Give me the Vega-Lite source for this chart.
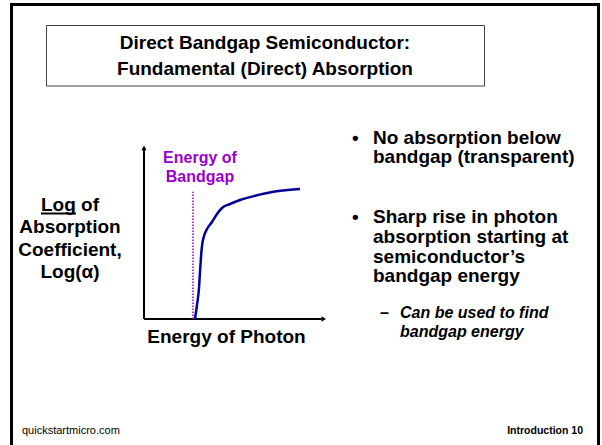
{
  "$schema": "https://vega.github.io/schema/vega-lite/v6.json",
  "width": 602,
  "height": 445,
  "autosize": {"type": "fit", "contains": "padding"},
  "padding": 0,
  "background": "white",
  "config": {"view": {"stroke": null}, "text": {"font": "Liberation Sans"}},
  "encoding": {
    "x": {"field": "energy", "type": "quantitative", "scale": {"domain": [-7.8689, 25.0273], "nice": false, "zero": false}, "axis": null},
    "y": {"field": "logAlpha", "type": "quantitative", "scale": {"domain": [-7.2, 18.2286], "nice": false, "zero": false}, "axis": null}
  },
  "layer": [
    {
      "data": {"values": [{"energy": -7.24, "energy2": 24.836, "logAlpha": 17.971, "logAlpha2": -8.5}]},
      "mark": {"type": "rect", "filled": false, "stroke": "#000000", "strokeWidth": 3, "clip": true},
      "encoding": {"x2": {"field": "energy2"}, "y2": {"field": "logAlpha2"}}
    },
    {
      "data": {"values": [{"energy": -5.328, "energy2": 18.607, "logAlpha": 16.771, "logAlpha2": 13.314}]},
      "mark": {"type": "rect", "fill": "white", "stroke": "#404040", "strokeWidth": 1},
      "encoding": {"x2": {"field": "energy2"}, "y2": {"field": "logAlpha2"}}
    },
    {
      "data": {"values": [
        {"energy": 6.612, "logAlpha": 15.429, "label": "Direct Bandgap Semiconductor:"},
        {"energy": 6.612, "logAlpha": 13.943, "label": "Fundamental (Direct) Absorption"}
      ]},
      "mark": {"type": "text", "fontSize": 19, "fontWeight": "bold", "align": "center", "baseline": "alphabetic", "color": "#000000"},
      "encoding": {"text": {"field": "label"}}
    },
    {
      "data": {"values": [
        {"energy": -4.044, "logAlpha": 6.189, "label": "Log of"},
        {"energy": -4.044, "logAlpha": 4.897, "label": "Absorption"},
        {"energy": -4.044, "logAlpha": 3.6, "label": "Coefficient,"},
        {"energy": -4.044, "logAlpha": 2.326, "label": "Log(α)"}
      ]},
      "mark": {"type": "text", "fontSize": 19, "fontWeight": "bold", "align": "center", "baseline": "alphabetic", "color": "#000000"},
      "encoding": {"text": {"field": "label"}}
    },
    {
      "data": {"values": [{"energy": -5.628, "energy2": -3.716, "logAlpha": 6.029}]},
      "mark": {"type": "rule", "stroke": "#000000", "strokeWidth": 1.8},
      "encoding": {"x2": {"field": "energy2"}}
    },
    {
      "data": {"values": [
        {"energy": 0, "energy2": 9.7, "logAlpha": 0, "logAlpha2": 0},
        {"energy": 0, "energy2": 0, "logAlpha": 0, "logAlpha2": 9.7}
      ]},
      "mark": {"type": "rule", "stroke": "#000000", "strokeWidth": 2},
      "encoding": {"x2": {"field": "energy2"}, "y2": {"field": "logAlpha2"}}
    },
    {
      "data": {"values": [{"energy": 0, "logAlpha": 9.78}]},
      "mark": {"type": "point", "shape": "triangle-up", "filled": true, "color": "#000000", "size": 28, "opacity": 1}
    },
    {
      "data": {"values": [{"energy": 9.82, "logAlpha": 0}]},
      "mark": {"type": "point", "shape": "triangle-right", "filled": true, "color": "#000000", "size": 28, "opacity": 1}
    },
    {
      "data": {"values": [{"energy": 2.678, "logAlpha": 0, "logAlpha2": 7.274}]},
      "mark": {"type": "rule", "stroke": "#9900CC", "strokeWidth": 1.5, "strokeDash": [1.5, 1.5]},
      "encoding": {"y2": {"field": "logAlpha2"}}
    },
    {
      "data": {"values": [
        {"energy": 3.06, "logAlpha": 8.914, "label": "Energy of"},
        {"energy": 3.06, "logAlpha": 7.846, "label": "Bandgap"}
      ]},
      "mark": {"type": "text", "fontSize": 16, "fontWeight": "bold", "align": "center", "baseline": "alphabetic", "color": "#9900CC"},
      "encoding": {"text": {"field": "label"}}
    },
    {
      "data": {"values": [
        {"energy": 2.787, "logAlpha": 0},
        {"energy": 2.896, "logAlpha": 0.8},
        {"energy": 3.005, "logAlpha": 1.771},
        {"energy": 3.06, "logAlpha": 2.686},
        {"energy": 3.115, "logAlpha": 3.543},
        {"energy": 3.169, "logAlpha": 4.171},
        {"energy": 3.279, "logAlpha": 4.743},
        {"energy": 3.443, "logAlpha": 5.143},
        {"energy": 3.716, "logAlpha": 5.543},
        {"energy": 3.989, "logAlpha": 6.0},
        {"energy": 4.262, "logAlpha": 6.343},
        {"energy": 4.699, "logAlpha": 6.571},
        {"energy": 5.246, "logAlpha": 6.8},
        {"energy": 6.12, "logAlpha": 7.057},
        {"energy": 6.995, "logAlpha": 7.257},
        {"energy": 7.869, "logAlpha": 7.371},
        {"energy": 8.525, "logAlpha": 7.429}
      ]},
      "mark": {"type": "line", "color": "#000099", "strokeWidth": 2.5, "interpolate": "monotone"},
      "encoding": {}
    },
    {
      "data": {"values": [{"energy": 4.508, "logAlpha": -1.343, "label": "Energy of Photon"}]},
      "mark": {"type": "text", "fontSize": 19, "fontWeight": "bold", "align": "center", "baseline": "alphabetic", "color": "#000000"},
      "encoding": {"text": {"field": "label"}}
    },
    {
      "data": {"values": [
        {"energy": 11.366, "logAlpha": 10.0, "label": "•"},
        {"energy": 11.366, "logAlpha": 5.486, "label": "•"}
      ]},
      "mark": {"type": "text", "fontSize": 19, "fontWeight": "bold", "align": "left", "baseline": "alphabetic", "color": "#000000"},
      "encoding": {"text": {"field": "label"}}
    },
    {
      "data": {"values": [
        {"energy": 12.514, "logAlpha": 10.0, "label": "No absorption below"},
        {"energy": 12.514, "logAlpha": 8.886, "label": "bandgap (transparent)"},
        {"energy": 12.514, "logAlpha": 5.486, "label": "Sharp rise in photon"},
        {"energy": 12.514, "logAlpha": 4.343, "label": "absorption starting at"},
        {"energy": 12.514, "logAlpha": 3.2, "label": "semiconductor’s"},
        {"energy": 12.514, "logAlpha": 2.114, "label": "bandgap energy"}
      ]},
      "mark": {"type": "text", "fontSize": 19, "fontWeight": "bold", "align": "left", "baseline": "alphabetic", "color": "#000000"},
      "encoding": {"text": {"field": "label"}}
    },
    {
      "data": {"values": [{"energy": 12.896, "logAlpha": 0.057, "label": "–"}]},
      "mark": {"type": "text", "fontSize": 16, "fontWeight": "bold", "align": "left", "baseline": "alphabetic", "color": "#000000"},
      "encoding": {"text": {"field": "label"}}
    },
    {
      "data": {"values": [
        {"energy": 13.989, "logAlpha": 0.057, "label": "Can be used to find"},
        {"energy": 13.989, "logAlpha": -1.011, "label": "bandgap energy"}
      ]},
      "mark": {"type": "text", "fontSize": 16, "fontWeight": "bold", "fontStyle": "italic", "align": "left", "baseline": "alphabetic", "color": "#000000"},
      "encoding": {"text": {"field": "label"}}
    },
    {
      "data": {"values": [{"energy": -6.667, "logAlpha": -6.571, "label": "quickstartmicro.com"}]},
      "mark": {"type": "text", "fontSize": 11, "align": "left", "baseline": "alphabetic", "color": "#000000"},
      "encoding": {"text": {"field": "label"}}
    },
    {
      "data": {"values": [{"energy": 23.989, "logAlpha": -6.571, "label": "Introduction 10"}]},
      "mark": {"type": "text", "fontSize": 10.5, "fontWeight": "bold", "align": "right", "baseline": "alphabetic", "color": "#000000"},
      "encoding": {"text": {"field": "label"}}
    }
  ]
}
